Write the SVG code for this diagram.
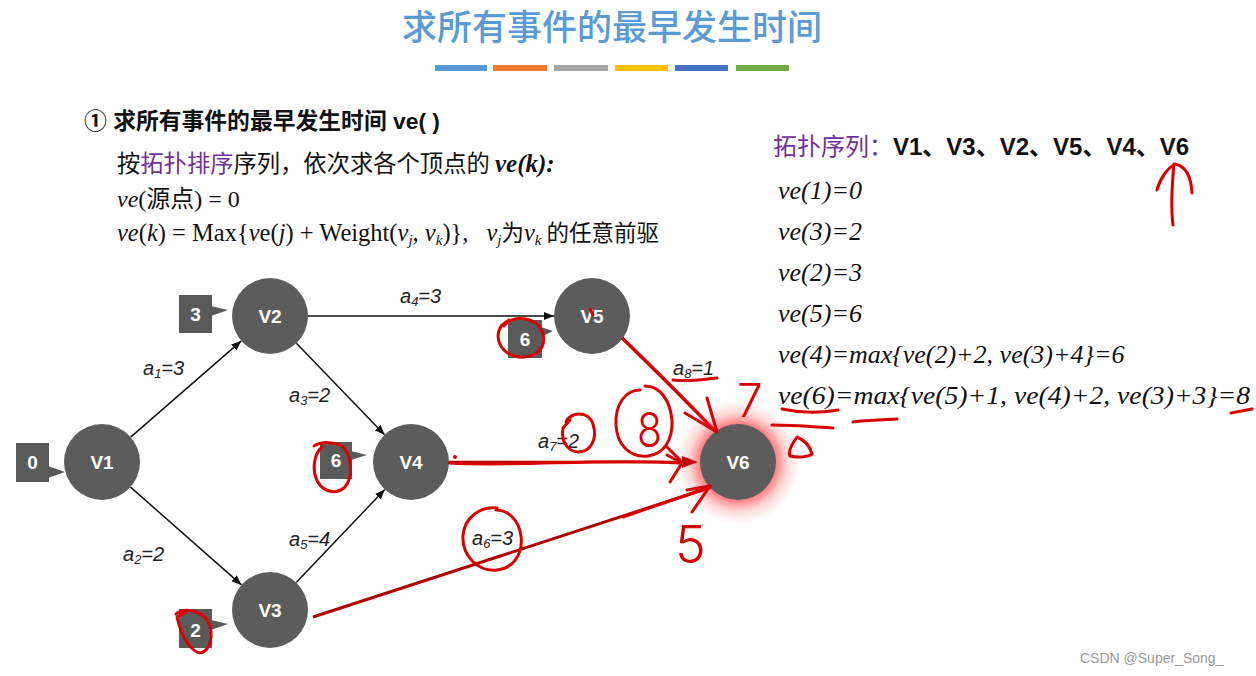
<svg xmlns="http://www.w3.org/2000/svg" width="1256" height="676" viewBox="0 0 1256 676">
<defs>
<style>
.node circle{fill:#5c5c5c}
.nl{font-family:"Liberation Sans","Noto Sans",sans-serif;font-weight:bold;font-size:19px;fill:#fff;text-anchor:middle}
.box{fill:#5a5a5a}
.bl{font-family:"Liberation Sans",sans-serif;font-weight:bold;font-size:19px;fill:#fff;text-anchor:middle}
.edge{stroke:#111;stroke-width:1.5;fill:none;marker-end:url(#arr)}
.el{font-family:"Liberation Sans",sans-serif;font-style:italic;font-size:20px;fill:#222}
.hand{stroke:#d90000;stroke-width:3;fill:none;stroke-linecap:round;stroke-linejoin:round}
.hd{font-family:Inter,"Liberation Sans",sans-serif;font-weight:300;fill:#d90000}
.ve{font-family:"Liberation Serif",serif;font-style:italic;font-size:26px;fill:#111}
.cn{font-family:"Liberation Serif","Noto Sans CJK SC",serif;fill:#111}
.cjk{font-family:"Noto Sans CJK SC",sans-serif}
.it{font-style:italic}
.purple{fill:#7030a0}
</style>
<marker id="arr" viewBox="0 0 10 8" refX="10" refY="4" markerWidth="10" markerHeight="8" markerUnits="userSpaceOnUse" orient="auto"><path d="M0,0 L10,4 L0,8 Z" fill="#111"/></marker>
<radialGradient id="glow" cx="0.5" cy="0.5" r="0.5">
<stop offset="0.6" stop-color="#ff2020" stop-opacity="0.6"/>
<stop offset="0.8" stop-color="#ff4040" stop-opacity="0.2"/>
<stop offset="1" stop-color="#ff6060" stop-opacity="0"/>
</radialGradient>
</defs>
<rect width="1256" height="676" fill="#fff"/>

<!-- title -->
<g id="title">
<text x="612" y="40" text-anchor="middle" font-family="'Noto Sans CJK SC',sans-serif" font-weight="500" font-size="35" fill="#5b9bd5">求所有事件的最早发生时间</text>
<rect x="435" y="65" width="52" height="6" fill="#5b9bd5"/>
<rect x="493" y="65" width="54" height="6" fill="#ed7d31"/>
<rect x="554" y="65" width="54" height="6" fill="#a5a5a5"/>
<rect x="615" y="65" width="53" height="6" fill="#ffc000"/>
<rect x="675" y="65" width="53" height="6" fill="#4472c4"/>
<rect x="736" y="65" width="53" height="6" fill="#70ad47"/>
</g>

<!-- left text -->
<g id="left-text">
<text x="84" y="129" font-family="'Liberation Sans','Noto Sans CJK SC',sans-serif" font-weight="bold" font-size="22.8" fill="#111">① 求所有事件的最早发生时间 ve( )</text>
<text x="117" y="172" font-family="'Noto Sans CJK SC',sans-serif" font-size="23.3" fill="#111">按<tspan class="purple">拓扑排序</tspan>序列，依次求各个顶点的 <tspan font-family="'Liberation Serif',serif" font-weight="bold" font-style="italic" font-size="25">ve(k):</tspan></text>
<text x="117" y="207" class="cn" font-size="24"><tspan class="it">ve</tspan>(<tspan class="cjk">源点</tspan>) = 0</text>
<text x="117" y="241" class="cn" font-size="24.5"><tspan class="it">ve</tspan>(<tspan class="it">k</tspan>) = Max{<tspan class="it">v</tspan>e(<tspan class="it">j</tspan>) + Weight(<tspan class="it">v</tspan><tspan class="it" font-size="15" dy="4">j</tspan><tspan dy="-4">, </tspan><tspan class="it">v</tspan><tspan class="it" font-size="15" dy="4">k</tspan><tspan dy="-4">)},</tspan><tspan class="it" dx="18">v</tspan><tspan class="it" font-size="15" dy="4">j</tspan><tspan dy="-4" class="cjk" font-size="22.5">为</tspan><tspan class="it">v</tspan><tspan class="it" font-size="15" dy="4">k</tspan><tspan dy="-4" dx="5" class="cjk" font-size="22.5">的任意前驱</tspan></text>
</g>

<!-- right text -->
<g id="right-text">
<text x="773" y="155" font-family="'Liberation Sans','Noto Sans CJK SC',sans-serif" font-weight="bold" font-size="24" fill="#111"><tspan class="purple" font-weight="normal" font-family="'Noto Sans CJK SC',sans-serif">拓扑序列：</tspan>V1、V3、V2、V5、V4、V6</text>
<text class="ve" x="778" y="199">ve(1)=0</text>
<text class="ve" x="778" y="240">ve(3)=2</text>
<text class="ve" x="778" y="281">ve(2)=3</text>
<text class="ve" x="778" y="322">ve(5)=6</text>
<text class="ve" x="778" y="363">ve(4)=max{ve(2)+2, ve(3)+4}=6</text>
<text class="ve" x="778" y="404" textLength="472" lengthAdjust="spacingAndGlyphs">ve(6)=max{ve(5)+1, ve(4)+2, ve(3)+3}=8</text>
</g>

<!-- connectors -->
<g id="connectors">
<line class="edge" x1="130.7" y1="437.1" x2="241.3" y2="340.9"/>
<line class="edge" x1="130.5" y1="487.1" x2="241.5" y2="584.9"/>
<line class="edge" x1="296.4" y1="343.3" x2="384.6" y2="434.7"/>
<line class="edge" x1="296.2" y1="582.5" x2="384.8" y2="489.5"/>
<line class="edge" x1="308" y1="316" x2="554" y2="316"/>
<line x1="449" y1="462" x2="684" y2="462" stroke="#b00000" stroke-width="2.5"/>
<polygon points="682,456 698,462 682,468" fill="#b00000"/>
<line x1="313" y1="617" x2="712" y2="487" stroke="#b00000" stroke-width="3"/>
<path d="M618,334 C650,365 690,405 714,430" stroke="#d90000" stroke-width="3.5" fill="none" stroke-linecap="round"/>
<text class="el" x="143" y="375">a<tspan font-size="13" dy="3">1</tspan><tspan dy="-3">=3</tspan></text>
<text class="el" x="123" y="561">a<tspan font-size="13" dy="3">2</tspan><tspan dy="-3">=2</tspan></text>
<text class="el" x="289" y="402">a<tspan font-size="13" dy="3">3</tspan><tspan dy="-3">=2</tspan></text>
<text class="el" x="400" y="303">a<tspan font-size="13" dy="3">4</tspan><tspan dy="-3">=3</tspan></text>
<text class="el" x="289" y="546">a<tspan font-size="13" dy="3">5</tspan><tspan dy="-3">=4</tspan></text>
<text class="el" x="472" y="545">a<tspan font-size="13" dy="3">6</tspan><tspan dy="-3">=3</tspan></text>
<text class="el" x="538" y="448">a<tspan font-size="13" dy="3">7</tspan><tspan dy="-3">=2</tspan></text>
<text class="el" x="673" y="375">a<tspan font-size="13" dy="3">8</tspan><tspan dy="-3">=1</tspan></text>
</g>

<!-- nodes -->
<g id="V1" class="node"><circle cx="102" cy="462" r="38"/><text class="nl" x="102" y="469">V1</text></g>
<g id="V2" class="node"><circle cx="270" cy="316" r="38"/><text class="nl" x="270" y="323">V2</text></g>
<g id="V3" class="node"><circle cx="270" cy="610" r="38"/><text class="nl" x="270" y="617">V3</text></g>
<g id="V4" class="node"><circle cx="411" cy="462" r="38"/><text class="nl" x="411" y="469">V4</text></g>
<g id="V5" class="node"><circle cx="592" cy="316" r="38"/><text class="nl" x="592" y="323">V5</text></g>
<g id="V6" class="node"><circle cx="738" cy="462" r="62" style="fill:url(#glow)"/><circle cx="738" cy="462" r="38"/><text class="nl" x="738" y="469">V6</text></g>

<!-- value boxes -->
<g id="box-V1"><rect class="box" x="16" y="443" width="33" height="39"/><polygon class="box" points="48,466 65,472 48,478"/><text class="bl" x="32.5" y="469">0</text></g>
<g id="box-V2"><rect class="box" x="179" y="295" width="33" height="38"/><polygon class="box" points="211,306 228,310 211,316"/><text class="bl" x="195.5" y="321">3</text></g>
<g id="box-V4"><rect class="box" x="320" y="442" width="32" height="37"/><polygon class="box" points="351,451 367,455 351,460"/><text class="bl" x="336" y="467">6</text></g>
<g id="box-V3"><rect class="box" x="179" y="609" width="33" height="39"/><polygon class="box" points="211,620 228,624 211,630"/><text class="bl" x="195.5" y="637">2</text></g>
<g id="box-V5"><rect class="box" x="508" y="320" width="34" height="38"/><polygon class="box" points="541,327 553,331 541,337"/><text class="bl" x="525" y="346">6</text></g>

<!-- handwritten annotations -->
<g id="annotations">
<path class="hand" d="M504,326 C512,314 538,316 543,334 C547,352 530,360 514,356 C499,351 494,336 502,325 L509,320"/>
<path class="hand" d="M314,446 C322,441 334,442 342,446 C352,455 354,478 344,488 C334,496 320,490 316,478 C312,466 315,453 322,447"/>
<path class="hand" d="M176,614 C186,606 206,612 210,626 C214,642 206,656 197,652 C186,646 180,630 177,617 L186,612"/>
<path class="hand" d="M497,508 C480,506 464,518 463,536 C462,556 478,572 497,570 C515,568 523,552 521,536 C519,520 508,510 496,510"/>
<path class="hand" d="M566,422 C570,412 588,410 593,424 C598,440 590,452 578,452 C566,451 561,440 563,428 L570,420"/>
<path class="hand" d="M640,390 C625,390 615,405 616,425 C617,445 630,458 648,456 C664,454 673,440 672,420 C670,400 660,386 645,386"/>
<path class="hand" d="M667,447 L680,460"/>
<text class="hd" x="637" y="447" font-size="48" textLength="25" lengthAdjust="spacingAndGlyphs">8</text>
<text class="hd" x="737" y="417" font-size="46">7</text>
<text class="hd" x="675" y="563" font-size="52">5</text>
<path class="hand" d="M449,463 C520,467 600,458 680,463"/>
<circle cx="455" cy="457" r="2" fill="#d90000"/>
<path class="hand" d="M667,455 L682,463 L670,482"/>
<path class="hand" d="M623,517 L710,487 M687,490 L710,486 L692,512"/>
<path class="hand" d="M685,413 L717,432 L707,398"/>
<path class="hand" d="M673,380 C690,382 705,379 717,378"/>
<path class="hand" d="M590,309 L593,315" stroke-width="2.5"/>
<path class="hand" d="M782,409 C800,413 820,413 838,410"/>
<path class="hand" d="M772,425 C795,425 815,427 833,428"/>
<path class="hand" d="M853,422 C868,420 883,420 897,419"/>
<path class="hand" d="M1231,413 L1252,409"/>
<path class="hand" d="M797,437 C792,444 788,452 790,456 C798,458 808,457 812,454 C810,446 804,440 797,437 Z"/>
<path class="hand" d="M1173,225 C1171,210 1172,185 1174,164 M1157,190 C1160,178 1168,168 1175,164 C1186,166 1191,176 1192,193"/>
</g>

<text x="1080" y="663" font-family="'Liberation Sans',sans-serif" font-size="14" fill="#999">CSDN @Super_Song_</text>
</svg>
